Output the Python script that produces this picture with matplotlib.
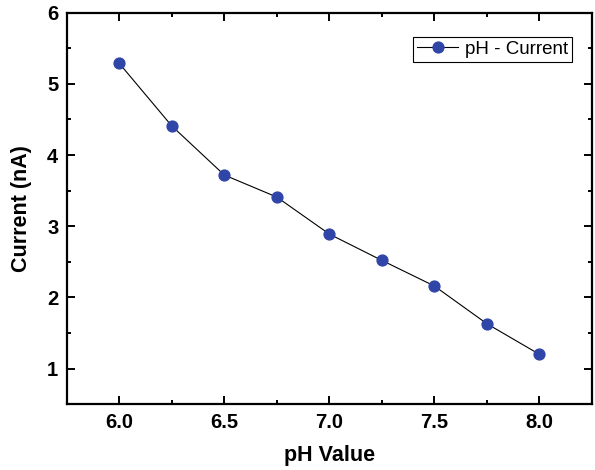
import matplotlib
matplotlib.use("Agg")
import matplotlib.pyplot as plt
from matplotlib.ticker import MultipleLocator

plt.rcParams['font.family'] = ['Liberation Sans', 'DejaVu Sans']

ph = [6.0, 6.25, 6.5, 6.75, 7.0, 7.25, 7.5, 7.75, 8.0]
current = [5.29, 4.41, 3.72, 3.41, 2.89, 2.52, 2.16, 1.63, 1.20]

fig = plt.figure(figsize=(5.95, 4.7), dpi=100)
ax = fig.add_axes([0.112, 0.140, 0.883, 0.833])

ax.plot(ph, current, color='black', lw=0.8, marker='o', markersize=7.8,
        markerfacecolor='#2f45a8', markeredgecolor='#2f45a8', label='pH - Current')

ax.set_xlim(5.75, 8.25)
ax.set_ylim(0.5, 6)
ax.xaxis.set_major_locator(MultipleLocator(0.5))
ax.xaxis.set_minor_locator(MultipleLocator(0.25))
ax.yaxis.set_major_locator(MultipleLocator(1))
ax.yaxis.set_minor_locator(MultipleLocator(0.5))

for s in ax.spines.values():
    s.set_linewidth(1.6)
ax.tick_params(which='both', direction='in', top=True, right=True, width=1.4)
ax.tick_params(which='major', length=6, labelsize=14.5, pad=6)
ax.tick_params(which='minor', length=3)
for lab in ax.get_xticklabels() + ax.get_yticklabels():
    lab.set_fontweight('bold')

ax.set_xlabel('pH Value', fontsize=15.5, fontweight='bold', labelpad=10)
ax.set_ylabel('Current (nA)', fontsize=15.5, fontweight='bold', labelpad=11)

leg = ax.legend(loc='upper right', bbox_to_anchor=(0.961, 0.921),
                bbox_transform=fig.transFigure, borderaxespad=0,
                fontsize=13.5, fancybox=False, framealpha=1,
                edgecolor='black', handlelength=2.2, handletextpad=0.35,
                borderpad=0.2)
leg.get_frame().set_linewidth(0.8)

fig.savefig('out.png', dpi=100)
